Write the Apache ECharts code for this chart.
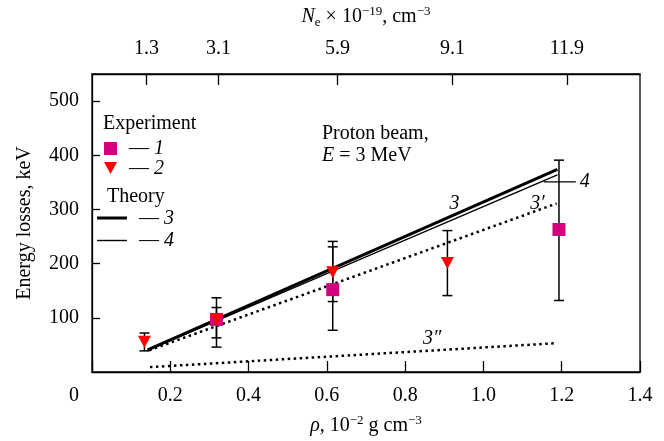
<!DOCTYPE html>
<html lang="en">
	<head>
		<meta charset="UTF-8">
		<title></title>
		<style type="text/css">
			html,
			body {
				width: 100%;
				height: 100%;
				margin: 0;
				padding: 0;
				background: #fff;
			}

			#main {
				width: 664px;
				height: 441px;
			}
		</style>
	</head>
	<body>
		<div id="main"></div>

		<script src="https://cdn.jsdelivr.net/npm/echarts@6/dist/echarts.min.js" type="text/javascript" charset="utf-8"></script>
		<script type="text/javascript">
			// rho, 10^-2 g cm^-3  /  energy losses, keV
			let exp1 = [[0.318, 97], [0.615, 152], [1.193, 263]];
			let exp1Err = [[0.318, 63, 119], [0.615, 77, 231], [1.193, 132, 391]];
			let exp2 = [[0.134, 56], [0.318, 97], [0.615, 184], [0.908, 201]];
			let exp2Err = [[0.134, 39, 72], [0.318, 46, 137], [0.615, 130, 241], [0.908, 141, 261]];

			let theory3 = [[0.142, 41], [1.189, 374]];
			let theory4 = [[0.142, 40], [1.189, 364]];
			let theory3p = [[0.146, 40], [1.187, 311]];
			let theory3pp = [[0.148, 9], [1.182, 53]];

			let curveLabels = [[0.926, 311, '3'], [1.138, 311, '3′'], [0.869, 61, '3″'], [1.259, 351, '4']];
			let leader4 = [[1.154, 351], [1.236, 351]];

			// top axis: N_e x 10^-19 cm^-3 at given rho
			let neTickPos = [0.139, 0.323, 0.627, 0.921, 1.213];
			let neTickLabels = ['1.3', '3.1', '5.9', '9.1', '11.9'];
			let yTicks = [100, 200, 300, 400, 500];

			const FONT = 'Liberation Serif';
			const MAGENTA = '#d4007f';
			const RED = '#ff0000';

			let supStyle = { fontFamily: FONT, fontSize: 13, verticalAlign: 'top', lineHeight: 24 };
			let normStyle = { fontFamily: FONT, fontSize: 20, lineHeight: 24, color: '#000' };
			let italic = { i: { fontStyle: 'italic', fontSize: 20, fontFamily: FONT } };

			function errItem(params, api) {
				let p1 = api.coord([api.value(0), api.value(1)]);
				let p2 = api.coord([api.value(0), api.value(2)]);
				let w = 5;
				let st = { stroke: '#000', lineWidth: 1.5 };
				return {
					type: 'group',
					children: [
						{ type: 'line', shape: { x1: p1[0], y1: p1[1], x2: p2[0], y2: p2[1] }, style: st },
						{ type: 'line', shape: { x1: p1[0] - w, y1: p1[1], x2: p1[0] + w, y2: p1[1] }, style: st },
						{ type: 'line', shape: { x1: p2[0] - w, y1: p2[1], x2: p2[0] + w, y2: p2[1] }, style: st }
					]
				};
			}

			var myChart = echarts.init(document.getElementById('main'));
			var option = {
				animation: false,
				textStyle: { fontFamily: FONT },
				grid: {
					left: 92,
					right: 24,
					top: 69,
					bottom: 69,
					show: true,
					borderColor: '#000',
					borderWidth: 1.3
				},
				xAxis: [{
					type: 'value',
					position: 'bottom',
					min: 0,
					max: 1.4,
					interval: 0.2,
					splitLine: { show: false },
					axisLine: { lineStyle: { color: '#000', width: 1.3 } },
					axisTick: { inside: true, length: 11, lineStyle: { color: '#000', width: 1.3 } },
					axisLabel: {
						color: '#000',
						fontFamily: FONT,
						fontSize: 20,
						margin: 14,
						formatter: v => v === 0 ? '{z|0}' : v.toFixed(1),
						rich: { z: { fontFamily: FONT, fontSize: 20, color: '#000', padding: [0, 36, 0, 0] } }
					},
					name: '{i|ρ}, 10{sup|−2} g cm{sup|−3}',
					nameLocation: 'middle',
					nameGap: 42,
					nameTextStyle: {
						color: '#000',
						fontFamily: FONT,
						fontSize: 20,
						rich: {
							i: Object.assign({}, normStyle, { fontStyle: 'italic' }),
							sup: supStyle
						}
					}
				}, {
					type: 'value',
					position: 'top',
					min: 0,
					max: 1.4,
					splitLine: { show: false },
					axisLine: { lineStyle: { color: '#000', width: 1.3 } },
					axisTick: { inside: true, length: 11, customValues: neTickPos, lineStyle: { color: '#000', width: 1.3 } },
					axisLabel: {
						color: '#000',
						fontFamily: FONT,
						fontSize: 20,
						margin: 15,
						customValues: neTickPos,
						formatter: v => neTickLabels[neTickPos.indexOf(v)]
					},
					name: '{i|N}{sub|e} × 10{sup|−19}, cm{sup|−3}',
					nameLocation: 'middle',
					nameGap: 45,
					nameTextStyle: {
						color: '#000',
						fontFamily: FONT,
						fontSize: 20,
						rich: {
							i: Object.assign({}, normStyle, { fontStyle: 'italic' }),
							sub: { fontFamily: FONT, fontSize: 13, verticalAlign: 'bottom', lineHeight: 24 },
							sup: supStyle
						}
					}
				}],
				yAxis: {
					type: 'value',
					min: 0,
					max: 550,
					splitLine: { show: false },
					axisLine: { show: true, lineStyle: { color: '#000', width: 1.3 } },
					axisTick: { inside: true, length: 8, customValues: yTicks, lineStyle: { color: '#000', width: 1.3 } },
					axisLabel: { color: '#000', fontFamily: FONT, fontSize: 20, margin: 13, customValues: yTicks },
					name: 'Energy losses, keV',
					nameLocation: 'middle',
					nameGap: 57,
					nameTextStyle: { color: '#000', fontFamily: FONT, fontSize: 20 }
				},
				series: [{
					name: '3',
					type: 'line',
					data: theory3,
					symbol: 'none',
					z: 2,
					lineStyle: { color: '#000', width: 3 }
				}, {
					name: '4',
					type: 'line',
					data: theory4,
					symbol: 'none',
					z: 2,
					lineStyle: { color: '#000', width: 1.4 }
				}, {
					name: "3'",
					type: 'line',
					data: theory3p,
					symbol: 'none',
					z: 2,
					lineStyle: { color: '#000', width: 2.5, type: [2.5, 3.5] }
				}, {
					name: "3''",
					type: 'line',
					data: theory3pp,
					symbol: 'none',
					z: 2,
					lineStyle: { color: '#000', width: 2.5, type: [2.5, 3.5] }
				}, {
					type: 'line',
					data: leader4,
					symbol: 'none',
					z: 2,
					lineStyle: { color: '#000', width: 1.3 }
				}, {
					type: 'custom',
					data: exp1Err,
					encode: { x: 0, y: [1, 2] },
					renderItem: errItem,
					z: 3
				}, {
					type: 'custom',
					data: exp2Err,
					encode: { x: 0, y: [1, 2] },
					renderItem: errItem,
					z: 3
				}, {
					name: '1',
					type: 'scatter',
					data: exp1,
					symbol: 'rect',
					symbolSize: 13,
					z: 4,
					itemStyle: { color: MAGENTA, opacity: 1 }
				}, {
					name: '2',
					type: 'scatter',
					data: exp2,
					symbol: 'triangle',
					symbolRotate: 180,
					symbolSize: [13, 12],
					z: 5,
					itemStyle: { color: RED, opacity: 1 }
				}, {
					type: 'scatter',
					data: curveLabels,
					symbolSize: 1,
					z: 6,
					itemStyle: { color: 'rgba(0,0,0,0)', opacity: 1 },
					label: {
						show: true,
						position: 'inside',
						formatter: p => p.data[2],
						color: '#000',
						opacity: 1,
						fontFamily: FONT,
						fontStyle: 'italic',
						fontSize: 20
					}
				}],
				graphic: [
					{ type: 'text', left: 103, top: 114, style: { text: 'Experiment', font: '20px "Liberation Serif"', fill: '#000' } },
					{ type: 'rect', shape: { x: 104, y: 142, width: 13, height: 13 }, style: { fill: MAGENTA } },
					{ type: 'text', left: 129, top: 139, style: { text: '— {i|1}', font: '20px "Liberation Serif"', fill: '#000', rich: italic } },
					{ type: 'polygon', shape: { points: [[104, 162], [117, 162], [110.5, 174]] }, style: { fill: RED } },
					{ type: 'text', left: 129, top: 159, style: { text: '— {i|2}', font: '20px "Liberation Serif"', fill: '#000', rich: italic } },
					{ type: 'text', left: 107, top: 187, style: { text: 'Theory', font: '20px "Liberation Serif"', fill: '#000' } },
					{ type: 'line', shape: { x1: 97, y1: 218, x2: 127, y2: 218 }, style: { stroke: '#000', lineWidth: 3 } },
					{ type: 'text', left: 139, top: 209, style: { text: '— {i|3}', font: '20px "Liberation Serif"', fill: '#000', rich: italic } },
					{ type: 'line', shape: { x1: 97, y1: 240.5, x2: 127, y2: 240.5 }, style: { stroke: '#000', lineWidth: 1.4 } },
					{ type: 'text', left: 139, top: 231, style: { text: '— {i|4}', font: '20px "Liberation Serif"', fill: '#000', rich: italic } },
					{ type: 'text', left: 322, top: 124, style: { text: 'Proton beam,', font: '20px "Liberation Serif"', fill: '#000' } },
					{ type: 'text', left: 322, top: 146, style: { text: '{i|E} = 3 MeV', font: '20px "Liberation Serif"', fill: '#000', rich: italic } }
				]
			};

			myChart.setOption(option);
		</script>
	</body>
</html>
